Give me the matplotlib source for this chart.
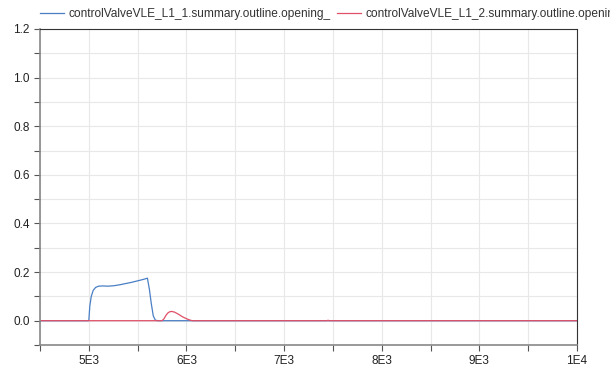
import matplotlib
matplotlib.use("Agg")
import matplotlib.pyplot as plt
from matplotlib.ticker import MultipleLocator, FuncFormatter

plt.rcParams["font.family"] = ["Liberation Sans", "DejaVu Sans"]

# valve openings over time
t_l1 = [4500, 4999, 5000, 5010, 5025, 5045, 5070, 5100, 5140, 5200, 5260, 5320,
        5380, 5440, 5500, 5560, 5600, 5620, 5640, 5660, 5680, 5700, 10000]
open_l1 = [0.0, 0.0, 0.0, 0.06, 0.10, 0.125, 0.137, 0.142, 0.143, 0.142, 0.144, 0.148,
           0.153, 0.158, 0.164, 0.170, 0.175, 0.13, 0.07, 0.02, 0.003, 0.0, 0.0]
t_l2 = [4500, 5750, 5770, 5790, 5810, 5830, 5850, 5880, 5920, 5960, 6000, 6040,
        6060, 7440, 7450, 7460, 10000]
open_l2 = [0.0, 0.0, 0.008, 0.022, 0.032, 0.037, 0.038, 0.035, 0.026, 0.016, 0.008, 0.002,
           0.0, 0.0, 0.002, 0.0, 0.0]

labels = ["controlValveVLE_L1_1.summary.outline.opening_",
          "controlValveVLE_L1_2.summary.outline.opening_"]

fig = plt.figure(figsize=(6.1, 3.71), dpi=100)
ax = fig.add_axes([40 / 610, 26 / 371, 537 / 610, 316 / 371])

ax.plot(t_l1, open_l1, color="#4a7fc4", lw=0.9, label=labels[0])
ax.plot(t_l2, open_l2, color="#e05068", lw=0.9, label=labels[1])

ax.set_xlim(4500, 10000)
ax.set_ylim(-0.1, 1.2)
ax.xaxis.set_major_locator(MultipleLocator(1000))
ax.xaxis.set_minor_locator(MultipleLocator(500))
ax.yaxis.set_major_locator(MultipleLocator(0.2))
ax.yaxis.set_minor_locator(MultipleLocator(0.1))
ax.xaxis.set_major_formatter(FuncFormatter(
    lambda v, p: "1E4" if v >= 10000 else "%dE3" % round(v / 1000)))
ax.yaxis.set_major_formatter(FuncFormatter(lambda v, p: "%.1f" % v))

ax.grid(True, which="both", color="#e8e8e8", lw=0.8)
ax.set_axisbelow(True)
ax.tick_params(which="both", direction="out", length=4, width=0.8,
               colors="#555555", labelcolor="#222222", labelsize=8.5)
for side in ["top", "right"]:
    ax.spines[side].set_color("#333333")
    ax.spines[side].set_linewidth(0.8)
for side in ["left", "bottom"]:
    ax.spines[side].set_color("#888888")
    ax.spines[side].set_linewidth(1.2)

# legend sits above the plot area and runs off the right edge
fig.legend(loc="upper left", bbox_to_anchor=(40 / 610, 1 - 8 / 371), ncol=2,
           frameon=False, fontsize=8.6, handlelength=2.0, handletextpad=0.4,
           columnspacing=0.5, borderaxespad=0.0, borderpad=0.0,
           labelcolor="#333333")

fig.savefig("out.png", dpi=100)
